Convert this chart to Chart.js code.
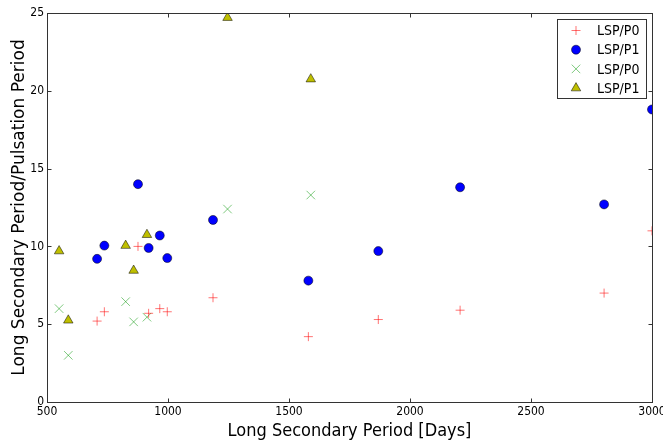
<!DOCTYPE html>
<html>
<head>
<meta charset="utf-8">
<script src="https://cdn.jsdelivr.net/npm/chart.js@4.4.0/dist/chart.umd.min.js"></script>
<style>
html, body { margin: 0; padding: 0; background: #fff; }
#wrap { width: 663px; height: 442px; }
</style>
</head>
<body>
<div id="wrap"><canvas id="lspChart" width="663" height="442"></canvas></div>
<script>
// first sample: same LSP for both ratios
var lspDaysA = [707, 737, 876, 920, 966, 997, 1186, 1580, 1869, 2207, 2802, 3000];
var ratioP0A = [5.2, 5.8, 10.0, 5.7, 6.0, 5.8, 6.7, 4.2, 5.3, 5.9, 7.0, 11.0];
var ratioP1A = [9.2, 10.05, 14.0, 9.9, 10.7, 9.25, 11.7, 7.8, 9.7, 13.8, 12.7, 18.8];

// second sample
var lspDaysB = [550, 588, 825, 858, 913, 1246, 1590];
var ratioP0B = [6.0, 3.0, 6.45, 5.15, 5.45, 12.4, 13.3];
var ratioP1B = [9.7, 5.25, 10.05, 8.45, 10.75, 24.7, 20.75];

var seriesNames = ['LSP/P0', 'LSP/P1', 'LSP/P0', 'LSP/P1'];
var xTicks = [500, 1000, 1500, 2000, 2500, 3000];
var yTicks = [0, 5, 10, 15, 20, 25];

function toPoints(xs, ys) {
    return xs.map(function (x, i) { return { x: x, y: ys[i] }; });
}

var FONT = '"DejaVu Sans Condensed", "DejaVu Sans", sans-serif';

// frame, inward ticks on all four sides, and the boxed legend
var framePlugin = {
    id: 'frame',
    afterDraw: function (chart) {
        var ctx = chart.ctx;
        var a = chart.chartArea;
        var sx = chart.scales.x, sy = chart.scales.y;
        var L = Math.round(a.left) + 0.5, R = Math.round(a.right) + 0.5;
        var T = Math.round(a.top) + 0.5, B = Math.round(a.bottom) + 0.5;
        ctx.save();
        ctx.strokeStyle = '#333';
        ctx.lineWidth = 1;
        ctx.strokeRect(L, T, R - L, B - T);
        ctx.beginPath();
        xTicks.forEach(function (v) {
            var px = Math.round(sx.getPixelForValue(v)) + 0.5;
            ctx.moveTo(px, B); ctx.lineTo(px, B - 4);
            ctx.moveTo(px, T); ctx.lineTo(px, T + 4);
        });
        yTicks.forEach(function (v) {
            var py = Math.round(sy.getPixelForValue(v)) + 0.5;
            ctx.moveTo(L, py); ctx.lineTo(L + 4, py);
            ctx.moveTo(R, py); ctx.lineTo(R - 4, py);
        });
        ctx.stroke();

        // legend box
        var bx = 557.5, by = 19.5, bw = 89, bh = 79;
        ctx.fillStyle = '#fff';
        ctx.fillRect(bx, by, bw, bh);
        ctx.strokeRect(bx, by, bw, bh);
        ctx.font = '14px ' + FONT;
        ctx.textBaseline = 'middle';
        ctx.textAlign = 'left';
        chart.data.datasets.forEach(function (ds, i) {
            var my = 30.5 + i * 19.2;
            var mx = 576;
            var opts = {
                pointStyle: ds.pointStyle,
                radius: ds.pointRadius,
                borderWidth: ds.pointBorderWidth,
                rotation: 0
            };
            ctx.save();
            ctx.fillStyle = ds.pointBackgroundColor;
            ctx.strokeStyle = ds.pointBorderColor;
            ctx.lineWidth = ds.pointBorderWidth;
            Chart.helpers.drawPoint(ctx, opts, mx, my);
            ctx.restore();
            ctx.fillStyle = '#000';
            ctx.fillText(ds.label, 597, my + 1);
        });
        ctx.restore();
    }
};

var ctxLsp = document.getElementById('lspChart').getContext('2d');
var lspChart = new Chart(ctxLsp, {
    type: 'scatter',
    data: {
        datasets: [{
            label: seriesNames[0],
            data: toPoints(lspDaysA, ratioP0A),
            pointStyle: 'cross',
            pointRadius: 4.5,
            pointBorderWidth: 1,
            pointBorderColor: 'rgba(255, 0, 0, 0.55)',
            pointBackgroundColor: 'rgba(255, 0, 0, 0.55)',
            clip: 0
        }, {
            label: seriesNames[1],
            data: toPoints(lspDaysA, ratioP1A),
            pointStyle: 'circle',
            pointRadius: 4.5,
            pointBorderWidth: 0.5,
            pointBorderColor: '#000',
            pointBackgroundColor: '#0000ff',
            clip: 0
        }, {
            label: seriesNames[2],
            data: toPoints(lspDaysB, ratioP0B),
            pointStyle: 'crossRot',
            pointRadius: 6,
            pointBorderWidth: 1,
            pointBorderColor: 'rgba(0, 150, 0, 0.5)',
            pointBackgroundColor: 'rgba(0, 150, 0, 0.5)',
            clip: 0
        }, {
            label: seriesNames[3],
            data: toPoints(lspDaysB, ratioP1B),
            pointStyle: 'triangle',
            pointRadius: 5.5,
            pointBorderWidth: 0.5,
            pointBorderColor: '#000',
            pointBackgroundColor: '#bfbf00',
            clip: 0
        }]
    },
    options: {
        responsive: false,
        animation: false,
        events: [],
        layout: { padding: { left: 0, top: 13, right: 11, bottom: 0 } },
        scales: {
            x: {
                type: 'linear',
                min: 500,
                max: 3000,
                afterBuildTicks: function (s) { s.ticks = xTicks.map(function (v) { return { value: v }; }); },
                afterFit: function (s) { s.height = 40; s.paddingLeft = 0; s.paddingRight = 0; },
                grid: { display: false, drawTicks: false },
                border: { display: false },
                ticks: {
                    color: '#000',
                    padding: 3,
                    maxRotation: 0,
                    font: { family: FONT, size: 12 },
                    callback: function (v) { return String(v); }
                },
                title: {
                    display: true,
                    text: 'Long Secondary Period [Days]',
                    color: '#000',
                    padding: { top: 0, bottom: 0 },
                    font: { family: FONT, size: 18 }
                }
            },
            y: {
                type: 'linear',
                min: 0,
                max: 25,
                afterBuildTicks: function (s) { s.ticks = yTicks.map(function (v) { return { value: v }; }); },
                afterFit: function (s) { s.width = 47; s.paddingTop = 0; s.paddingBottom = 0; },
                grid: { display: false, drawTicks: false },
                border: { display: false },
                ticks: {
                    color: '#000',
                    padding: 3,
                    font: { family: FONT, size: 12 },
                    callback: function (v) { return String(v); }
                },
                title: {
                    display: true,
                    text: 'Long Secondary Period/Pulsation Period',
                    color: '#000',
                    padding: { top: 9, bottom: 0 },
                    font: { family: '"DejaVu Sans", sans-serif', size: 17 }
                }
            }
        },
        plugins: {
            legend: { display: false },
            tooltip: { enabled: false }
        }
    },
    plugins: [framePlugin]
});
</script>
</body>
</html>
